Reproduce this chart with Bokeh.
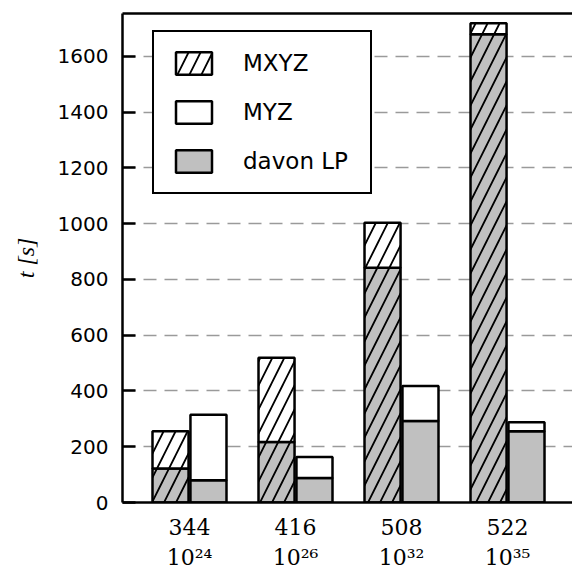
from bokeh.plotting import figure
from bokeh.models import (FixedTicker, LinearAxis, Range1d, Legend, LegendItem,
                          ColumnDataSource)
from bokeh.transform import dodge
from bokeh.embed import file_html
from bokeh.resources import INLINE

# ---- data ----
groups = ["344", "416", "508", "522"]
exponents = ["24", "26", "32", "35"]
mxyz_total = [256, 519, 1003, 1719]
mxyz_lp = [122, 217, 842, 1680]
myz_total = [315, 163, 418, 288]
myz_lp = [80, 88, 292, 256]
y_ticks = [0, 200, 400, 600, 800, 1000, 1200, 1400, 1600]

SUP = str.maketrans("0123456789", "⁰¹²³⁴⁵⁶⁷⁸⁹")
idx = list(range(1, len(groups) + 1))
src = ColumnDataSource(dict(idx=idx, mxyz_total=mxyz_total, mxyz_lp=mxyz_lp,
                            myz_total=myz_total, myz_lp=myz_lp,
                            zero=[0] * len(idx)))

p = figure(width=572, height=572, output_backend="svg", toolbar_location=None,
           x_range=Range1d(0.368, 4.613), y_range=Range1d(0, 1754),
           min_border_left=122, min_border_right=0, min_border_top=13,
           min_border_bottom=70)
p.outline_line_color = None
p.background_fill_color = "white"

GRAY = "#c0c0c0"
LW = 2.5
OFF = 0.179
W = 0.34
hatch = dict(hatch_pattern="/", hatch_color="black", hatch_scale=24, hatch_weight=1.8)

r_mxyz_lp = p.vbar(x=dodge("idx", -OFF, range=p.x_range), width=W, bottom="zero", top="mxyz_lp",
                   source=src, fill_color=GRAY, line_color="black", line_width=LW, **hatch)
r_mxyz = p.vbar(x=dodge("idx", -OFF, range=p.x_range), width=W, bottom="mxyz_lp", top="mxyz_total",
                source=src, fill_color="white", line_color="black", line_width=LW, **hatch)
r_myz_lp = p.vbar(x=dodge("idx", OFF, range=p.x_range), width=W, bottom="zero", top="myz_lp",
                  source=src, fill_color=GRAY, line_color="black", line_width=LW)
r_myz = p.vbar(x=dodge("idx", OFF, range=p.x_range), width=W, bottom="myz_lp", top="myz_total",
               source=src, fill_color="white", line_color="black", line_width=LW)

# grid
p.xgrid.grid_line_color = None
p.ygrid.ticker = FixedTicker(ticks=y_ticks)
p.ygrid.grid_line_color = "#9a9a9a"
p.ygrid.grid_line_width = 1.5
p.ygrid.grid_line_dash = "13 8"

# y axis
ya = p.yaxis[0]
ya.ticker = FixedTicker(ticks=y_ticks)
ya.axis_line_width = LW
ya.major_tick_line_width = LW
ya.major_tick_in = 13
ya.major_tick_out = 0
ya.minor_tick_line_color = None
ya.major_label_text_font = "DejaVu Sans"
ya.major_label_text_font_size = "20px"
ya.major_label_text_color = "black"
ya.major_label_standoff = 14
ya.axis_label = "t [s]"
ya.axis_label_text_font = "Liberation Serif"
ya.axis_label_text_font_style = "italic"
ya.axis_label_text_font_size = "24px"
ya.axis_label_text_color = "black"
ya.axis_label_standoff = 16

# x axis
xa = p.xaxis[0]
xa.ticker = FixedTicker(ticks=idx)
xa.major_label_overrides = {i: f"{g}\n10{e.translate(SUP)}" for i, g, e in zip(idx, groups, exponents)}
xa.axis_line_width = LW
xa.major_tick_line_color = None
xa.minor_tick_line_color = None
xa.major_label_text_font = "DejaVu Serif"
xa.major_label_text_font_size = "22px"
xa.major_label_text_color = "black"
xa.major_label_standoff = 6

# top border
top = LinearAxis(ticker=FixedTicker(ticks=[]), major_tick_line_color=None,
                 minor_tick_line_color=None, major_label_text_font_size="0px",
                 major_label_standoff=0, major_tick_in=0, major_tick_out=0,
                 axis_line_width=LW)
p.add_layout(top, "above")

legend = Legend(items=[LegendItem(label="MXYZ", renderers=[r_mxyz]),
                       LegendItem(label="MYZ", renderers=[r_myz]),
                       LegendItem(label="davon LP", renderers=[r_myz_lp])],
                location=(30, 308), glyph_width=45, glyph_height=28, label_height=28,
                spacing=21, padding=17, label_standoff=27, label_width=110,
                label_text_font="DejaVu Sans", label_text_font_size="23px",
                label_text_color="black",
                border_line_color="black", border_line_width=2, border_line_alpha=1.0,
                background_fill_color="white", background_fill_alpha=1.0)
p.add_layout(legend)

open("out.html", "w").write(file_html(p, INLINE))
